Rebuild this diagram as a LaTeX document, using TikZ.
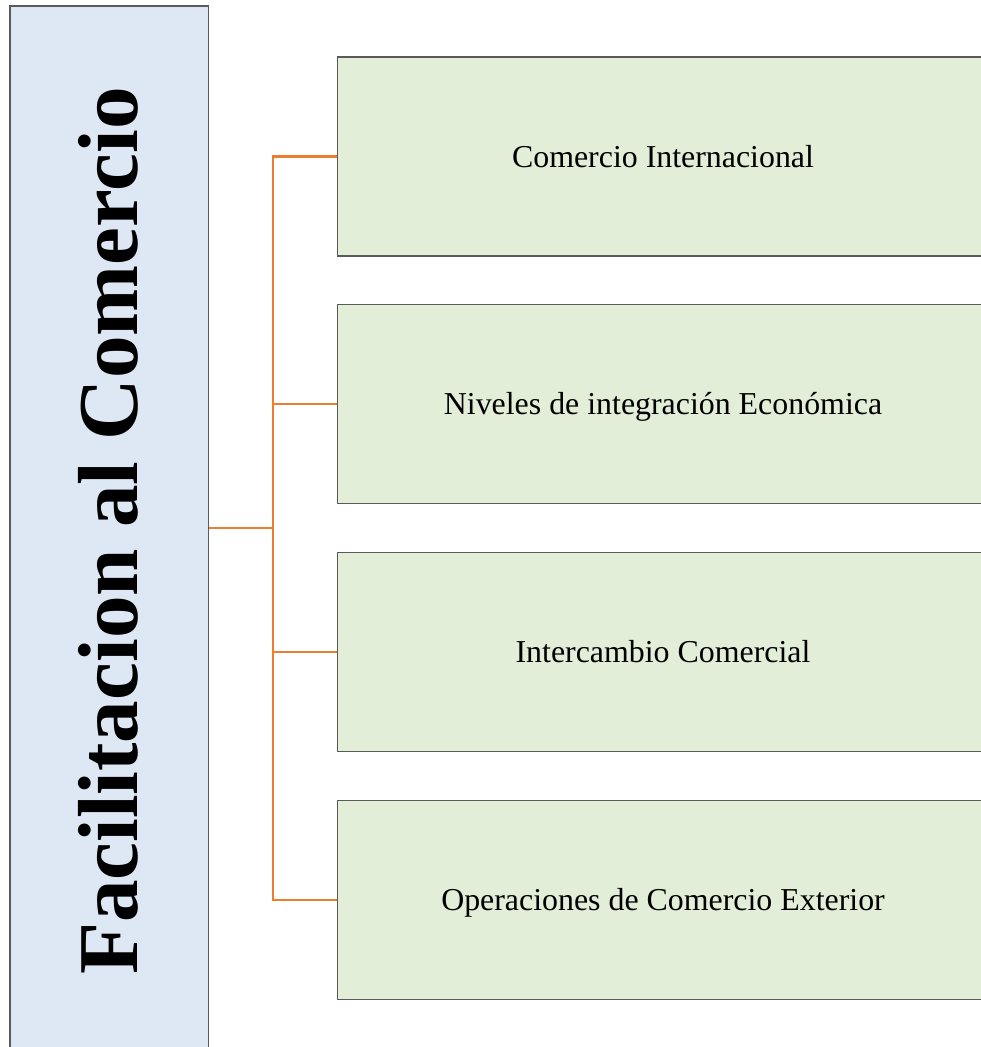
\documentclass[tikz,border=0pt]{standalone}
\usepackage{fontspec}
\setmainfont{Liberation Serif}
\definecolor{leftfill}{HTML}{DEE8F4}
\definecolor{rightfill}{HTML}{E2EED7}
\definecolor{boxline}{HTML}{5A5A5A}
\definecolor{conn}{HTML}{ED7D31}
\tikzset{
  leftbox/.style={draw=boxline, line width=1.3bp, fill=leftfill, rectangle, inner sep=0pt},
  topicbox/.style={draw=boxline, line width=1.6bp, fill=rightfill, rectangle, inner sep=0pt,
     minimum width=651bp, minimum height=199bp, font=\fontsize{32}{36}\selectfont,
     text height=22bp, text depth=0bp},
  connector/.style={draw=conn, line width=2.5bp}
}
\begin{document}
\begin{tikzpicture}[x=1bp,y=1bp]
\useasboundingbox (0,0) rectangle (981,1047);
\clip (0,0) rectangle (981,1047);
% left box
\node[leftbox, minimum width=198.5bp, minimum height=1050bp] (left) at (109.25,516) {};
\node[rotate=90, anchor=base, font=\fontsize{85.5}{90}\bfseries\selectfont] (title) at (137,516) {Facilitacion al Comercio};
% topic boxes
\node[topicbox] (b1) at (663,890.5) {Comercio Internacional};
\node[topicbox] (b2) at (663,643) {Niveles de integración Económica};
\node[topicbox] (b3) at (663,395) {Intercambio Comercial};
\node[topicbox] (b4) at (663,147) {Operaciones de Comercio Exterior};
% connectors
\coordinate (j) at (273,519);
\draw[connector] (left.east |- j) -- (j);
\draw[connector] (b1.west) -| (j);
\draw[connector] (b4.west) -| (j);
\draw[connector] (b2.west) -- (b2.west -| j);
\draw[connector] (b3.west) -- (b3.west -| j);
\end{tikzpicture}
\end{document}
